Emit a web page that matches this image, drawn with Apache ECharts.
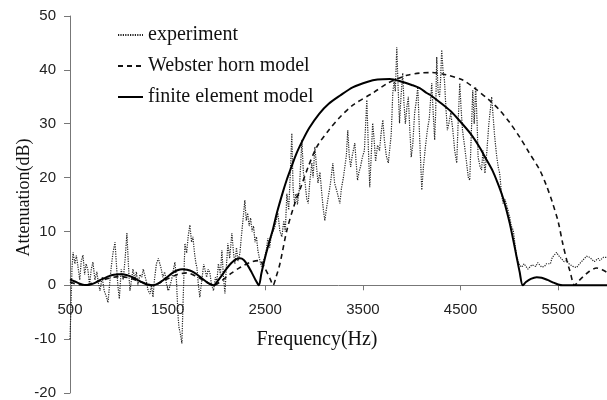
<!DOCTYPE html>
<html>
<head>
<meta charset="utf-8">
<script src="https://cdn.jsdelivr.net/npm/echarts@6/dist/echarts.min.js"></script>
<style>
html,body{margin:0;padding:0;background:#fff;}
#chart{width:607px;height:400px;}
</style>
</head>
<body>
<div id="chart"></div>
<script>
// ---- data ----
const seriesNames = ['experiment', 'Webster horn model', 'finite element model'];
const xTickValues = [500, 1500, 2500, 3500, 4500, 5500];
const yTickValues = [-20, -10, 0, 10, 20, 30, 40, 50];

const expHz = [500,510,520,531,550,565,582,600,615,633,650,665,684,700,718,735,755,775,790,807,830,850,870,889,905,920,940,961,975,990,1005,1025,1045,1065,1083,1095,1105,1114,1130,1145,1165,1180,1195,1216,1235,1250,1268,1285,1300,1319,1335,1350,1365,1385,1405,1421,1435,1450,1470,1490,1510,1523,1540,1560,1575,1590,1600,1608,1616,1630,1646,1660,1677,1695,1710,1728,1745,1759,1775,1790,1800,1815,1830,1850,1870,1882,1900,1915,1933,1950,1970,1990,2005,2020,2040,2056,2070,2087,2100,2117,2135,2158,2175,2189,2205,2220,2240,2255,2271,2291,2305,2320,2335,2350,2365,2380,2395,2410,2424,2440,2460,2475,2490,2510,2526,2545,2560,2578,2600,2629,2650,2670,2690,2705,2721,2740,2755,2772,2785,2800,2815,2830,2850,2875,2890,2905,2925,2940,2955,2977,2990,3008,3025,3040,3060,3079,3095,3110,3125,3140,3160,3175,3192,3210,3225,3240,3264,3280,3300,3315,3330,3345,3360,3375,3390,3417,3430,3445,3460,3475,3495,3515,3540,3555,3570,3585,3600,3615,3630,3650,3670,3685,3704,3720,3740,3760,3775,3790,3806,3820,3832,3847,3860,3875,3890,3908,3920,3935,3950,3965,3980,3995,4010,4030,4045,4062,4080,4103,4120,4140,4160,4180,4205,4220,4235,4245,4256,4270,4285,4295,4307,4320,4335,4350,4365,4380,4400,4420,4440,4461,4475,4492,4505,4520,4540,4560,4580,4594,4610,4625,4640,4655,4670,4680,4700,4715,4730,4750,4770,4790,4819,4835,4850,4870,4885,4901,4920,4935,4955,4970,4985,5004,5020,5040,5055,5075,5090,5106,5130,5150,5170,5190,5208,5230,5250,5270,5290,5310,5330,5341,5360,5380,5400,5420,5440,5460,5484,5500,5520,5540,5560,5587,5610,5630,5650,5670,5689,5710,5730,5750,5770,5790,5822,5845,5870,5890,5910,5925,5945,5965,5985,6000];
const expDb = [-10,-4,3,6.1,4,5.5,3.4,1,4.5,5.6,2,4,2.8,0,3,4.3,1,2.5,0.5,-1,1.5,-1,-2,-3.2,0,3,6,8,4,0,-2.5,3,1,5,9.7,5,1.5,-1,1,3,1,2.5,0,2,1.5,3,2.8,0.5,-1,-1.6,0,-2.2,1,4,5,5,3,1.5,2.5,0,-1,-1,1,3,4.3,1,-3,-6,-7.8,-9,-10.8,-2,7.8,6,9,11.2,8,9,6,4,3.3,0,-2.2,1,3.9,3.9,1.5,3,2.3,0,-1,1.5,0.9,4,2,6.5,2,-1.5,3,7.8,5,9.7,6,4,7,4.5,5.9,9,12,15.8,12,13.4,11,12.5,10,11,8,9,6.5,5,3.5,3.2,5,6.5,8.7,7,9,8.9,11,13.4,10,9,12,10,17,14,20,28.2,18,15.2,17,15,18,27,21,19.5,16,15.2,19,22.7,20,25.7,22,19,21,17,14,12,14,15.8,18,20,22.7,19,18,17,15.2,18,20,22,24,28.8,24,22,24,26.4,23,19.5,21,22,23.8,25,34.4,26,18.2,24,30.1,27,23,26,25,28,30.7,27,24,22.7,22.7,28,35.7,38,36,44.2,37,30.1,35,39.4,34,30,33,35,29,23.8,26,32,34,36.8,28,17.7,22,25.7,28.8,31,37.5,32,27,32,42.4,36,35,38,43.7,40,38.1,33,28.8,30,32,29,25,22.7,30,37.5,33,28.8,26,23,20,19.5,28,36.2,30,36.8,30,23.8,22,21.4,25,20.8,25,30,35,31,27.5,24,22,20.8,17,15.2,16,15.8,14,12.6,11,10.2,8,5.2,4.5,3.7,3.4,4,3.5,3,3.3,3.8,4,3.5,4.2,3.8,3.4,3.2,3.5,4,4.3,4,5.2,5.6,6.1,5.6,5.2,5,4.4,4.6,4,3.8,3.5,3.4,3.3,3.8,4.2,4.6,5,5.4,5.2,4.8,4.4,4.6,5,4.6,4.8,5.2,5,5.2];

const websterHz = [500,550,600,650,700,800,900,1000,1100,1200,1300,1350,1400,1500,1600,1700,1800,1900,1970,2050,2150,2250,2350,2440,2500,2550,2580,2610,2650,2721,2790,2854,2940,3028,3150,3264,3400,3601,3750,3847,3950,4082,4200,4350,4523,4650,4800,4901,5000,5106,5200,5311,5380,5444,5500,5546,5590,5618,5669,5710,5750,5820,5894,5950,6000];
const websterDb = [0.6,0.3,0.1,0,0.2,0.8,1.3,1.6,1.4,0.8,0.2,0,0.3,1.2,2.0,2.3,1.6,0.6,0,0.8,2.2,3.4,4.3,4.6,3.0,1.2,0,1.5,4,10.2,14.5,17.7,22,25.7,28.8,31.2,33.5,35.7,37.5,38.3,39,39.4,39.5,39.1,38.1,36.5,34.3,32.5,30.3,27.5,24.7,21.4,18.5,15.2,11.8,7.8,4.5,2.8,0,0.8,1.5,2.6,3.2,2.9,2.4];

const femHz = [500,550,600,650,700,750,800,850,900,950,1000,1050,1100,1150,1200,1250,1300,1350,1400,1450,1500,1550,1600,1650,1700,1750,1800,1850,1900,1950,1975,2000,2050,2100,2150,2200,2240,2280,2320,2360,2400,2434,2460,2500,2540,2580,2620,2680,2720,2760,2820,2885,2950,3050,3150,3263,3400,3550,3650,3775,3900,4000,4082,4154,4200,4287,4400,4492,4600,4696,4760,4830,4880,4932,4970,5004,5040,5075,5105,5137,5170,5220,5280,5330,5390,5450,5500,5546,5600,6000];
const femDb = [1.1,0.7,0.3,0.05,0.1,0.4,0.9,1.3,1.7,1.95,2.05,2.0,1.8,1.4,0.9,0.45,0.1,0,0.3,0.9,1.6,2.3,2.8,3.0,2.9,2.6,2.0,1.3,0.6,0.1,0,0.5,1.7,3.0,4.1,4.8,5.0,4.7,3.7,2.4,1.0,0,2.2,5.3,8.0,10.5,13.5,17.3,19.6,21.6,24.5,27,29.2,31.8,33.7,35.2,36.8,37.8,38.2,38.3,37.8,37.2,36.6,35.7,35.2,34.0,32.3,30.5,28.2,25.6,23.5,21.2,19.0,16.4,14.0,11.5,8.4,5.2,2.5,0,0.6,1.2,1.5,1.4,1.0,0.5,0.15,0,0,0];

const zip = (xs, ys) => xs.map((x, i) => [x, ys[i]]);

const labelFont = { fontFamily: '"Liberation Sans", Arial, sans-serif', fontSize: 15, color: '#222' };
const serifFont = '"Liberation Serif", "Times New Roman", serif';

const gridTop = 16, gridBottom = 7, H = 400;
const yMin = yTickValues[0], yMax = yTickValues[yTickValues.length - 1];
const zeroOffset = -(H - gridTop - gridBottom) * (0 - yMin) / (yMax - yMin);

const chart = echarts.init(document.getElementById('chart'), null, { renderer: 'canvas' });
chart.setOption({
  animation: false,
  backgroundColor: '#fff',
  grid: { left: 70, right: 0, top: gridTop, bottom: gridBottom, containLabel: false, outerBoundsMode: 'none' },
  legend: {
    orient: 'vertical',
    left: 112,
    top: 19,
    itemWidth: 25,
    itemHeight: 14,
    itemGap: 9,
    data: seriesNames,
    itemStyle: { opacity: 0 },
    textStyle: { fontFamily: serifFont, fontSize: 20, color: '#111', lineHeight: 22 }
  },
  xAxis: {
    type: 'value',
    min: xTickValues[0],
    max: 6000,
    interval: 1000,
    offset: zeroOffset,
    name: 'Frequency(Hz)',
    nameLocation: 'middle',
    nameGap: 44,
    nameMoveOverlap: false,
    nameTextStyle: { fontFamily: serifFont, fontSize: 20, color: '#111', padding: [0, 43, 0, 0] },
    axisLine: { onZero: false, lineStyle: { color: '#777', width: 1 } },
    axisTick: { show: true, length: 5, inside: false, lineStyle: { color: '#777' } },
    axisLabel: Object.assign({ margin: 17, showMaxLabel: false, showMinLabel: true, formatter: v => String(v) }, labelFont),
    splitLine: { show: false }
  },
  yAxis: {
    type: 'value',
    min: yMin,
    max: yMax,
    interval: 10,
    name: 'Attenuation(dB)',
    nameLocation: 'middle',
    nameGap: 37,
    nameMoveOverlap: false,
    nameTextStyle: { fontFamily: serifFont, fontSize: 18, color: '#111', padding: [0, 0, 0, 14] },
    axisLine: { show: true, onZero: false, lineStyle: { color: '#777', width: 1 } },
    axisTick: { show: true, length: 6, inside: false, lineStyle: { color: '#777' } },
    axisLabel: Object.assign({ margin: 14, formatter: v => String(v) }, labelFont),
    splitLine: { show: false }
  },
  series: [
    {
      name: seriesNames[0], type: 'line', symbol: 'none', z: 1,
      data: zip(expHz, expDb),
      lineStyle: { color: '#222', width: 1.2, type: [1.2, 1.2] },
      itemStyle: { color: '#222' }
    },
    {
      name: seriesNames[1], type: 'line', symbol: 'none', z: 2, smooth: 0.3,
      data: zip(websterHz, websterDb),
      lineStyle: { color: '#111', width: 1.6, type: [5, 4] },
      itemStyle: { color: '#111' }
    },
    {
      name: seriesNames[2], type: 'line', symbol: 'none', z: 3, smooth: 0.3,
      data: zip(femHz, femDb),
      lineStyle: { color: '#000', width: 2 },
      itemStyle: { color: '#000' }
    }
  ]
});
</script>
</body>
</html>
